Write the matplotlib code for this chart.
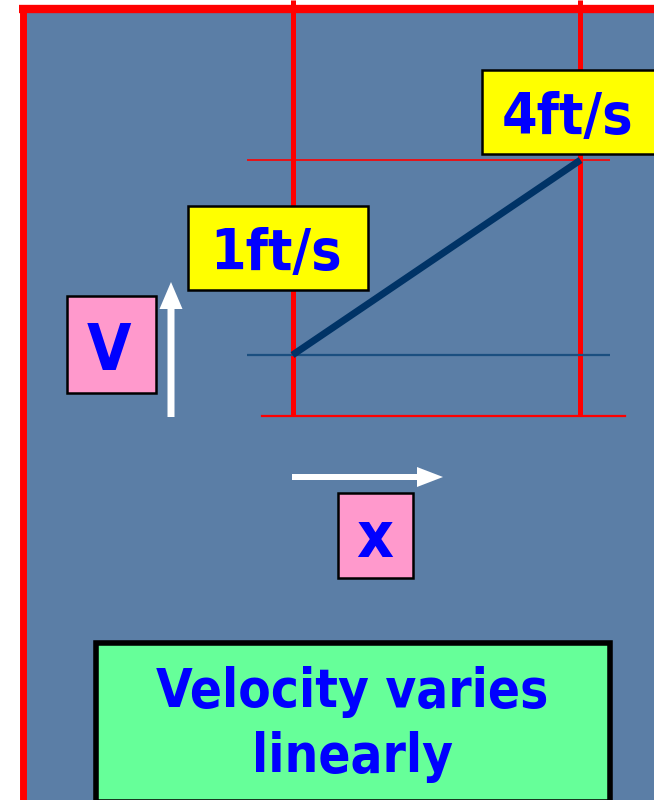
import matplotlib
matplotlib.use("Agg")
import matplotlib.pyplot as plt
from matplotlib.patches import Rectangle, FancyArrow

# данные: положение по x (доли ширины канала) и скорость, ft/s
x_pos = [0, 1]
velocity = [1, 4]
speed_labels = ["1ft/s", "4ft/s"]
axis_labels = ["V", "x"]
caption = ["Velocity varies", "linearly"]

BG = "#5b7ea6"
RED = "#ff0000"
NAVY = "#003366"
TXT = "#0000ff"

W, H = 654, 800
fig = plt.figure(figsize=(W / 100, H / 100), dpi=100, facecolor="white")

# фоновая ось в пикселях
bg = fig.add_axes([0, 0, 1, 1], zorder=0)
bg.set_xlim(0, W)
bg.set_ylim(H, 0)
bg.axis("off")
bg.add_patch(Rectangle((24, 9), W, H, facecolor=BG, edgecolor="none"))
bg.plot([19, W], [9, 9], color=RED, lw=6, solid_capstyle="butt")
bg.plot([23, 23], [5, H], color=RED, lw=5, solid_capstyle="butt")
for xp in (292.5, 579.5):
    bg.plot([xp, xp], [0, 416], color=RED, lw=3.6, solid_capstyle="butt")
bg.plot([262, 625], [415.5, 415.5], color=RED, lw=1.6)

# ось данных: x=0 -> 292 px, x=1 -> 580 px; v=1 -> 355 px, v=4 -> 160 px
px_x0, px_x1 = 247, 610
px_y0, px_y1 = 150, 420
ax = fig.add_axes([px_x0 / W, 1 - px_y1 / H, (px_x1 - px_x0) / W, (px_y1 - px_y0) / H], zorder=1)
ax.patch.set_alpha(0)
ax.axis("off")
sx = 288.0
sy = 65.0
ax.set_xlim((px_x0 - 292.5) / sx, (px_x1 - 292.5) / sx)
ax.set_ylim(velocity[0] - (px_y1 - 355) / sy, velocity[0] + (355 - px_y0) / sy)
ax.axhline(velocity[1], color=RED, lw=1.2)
ax.axhline(velocity[0], color="#1b4f80", lw=1.6)
ax.plot(x_pos, velocity, color=NAVY, lw=5, solid_capstyle="butt")

# верхний слой: подписи и стрелки
top = fig.add_axes([0, 0, 1, 1], zorder=2)
top.patch.set_alpha(0)
top.set_xlim(0, W)
top.set_ylim(H, 0)
top.axis("off")

font = dict(family="DejaVu Sans", weight="bold", stretch="condensed", color=TXT, ha="center")


def box(x0, y0, x1, y1, fc, lw=1.8):
    top.add_patch(Rectangle((x0, y0), x1 - x0, y1 - y0, facecolor=fc, edgecolor="black", lw=lw))


box(482, 70, W + 10, 154, "#ffff00")
top.text(568, 134, speed_labels[1], fontsize=41, va="baseline", **font)
box(188, 206, 368, 290, "#ffff00")
top.text(276, 270, speed_labels[0], fontsize=41, va="baseline", **font)

box(67, 296, 156, 393, "#ff99cc")
top.text(109, 370, axis_labels[0], fontsize=46, va="baseline", **font)
box(338, 493, 413, 578, "#ff99cc")
top.text(375, 557, axis_labels[1], fontsize=46, va="baseline", **font)

top.add_artist(FancyArrow(171, 417, 0, -135, width=7, head_width=23, head_length=27,
                          length_includes_head=True, color="white", ec="none"))
top.add_artist(FancyArrow(292, 477, 151, 0, width=6, head_width=20, head_length=26,
                          length_includes_head=True, color="white", ec="none"))

box(96, 643, 610, 802, "#66ff99", lw=4)
top.text(352, 707, caption[0], fontsize=38, va="baseline", **font)
top.text(352, 772, caption[1], fontsize=38, va="baseline", **font)

fig.savefig("out.png", dpi=100, facecolor="white")
plt.close(fig)
